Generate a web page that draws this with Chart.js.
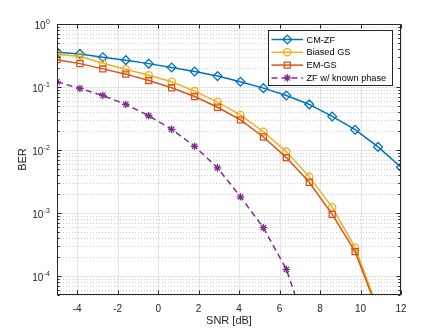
<!DOCTYPE html>
<html>
<head>
<meta charset="utf-8">
<script src="https://cdn.jsdelivr.net/npm/chart.js@4/dist/chart.umd.min.js"></script>
<style>
  html, body { margin: 0; padding: 0; background: #ffffff; }
  #wrap { width: 443px; height: 332px; }
</style>
</head>
<body>
<div id="wrap"><canvas id="c" width="443" height="332"></canvas></div>
<script>
// ---- data ----
const snrDb = [-5, -3.867, -2.733, -1.6, -0.467, 0.667, 1.8, 2.933, 4.067, 5.2, 6.333, 7.467, 8.6, 9.733, 10.867, 12];
const berCmZf = [0.357, 0.335, 0.297, 0.267, 0.235, 0.204, 0.176, 0.149, 0.121, 0.096, 0.0734, 0.0529, 0.0341, 0.0210, 0.0112, 0.00532];
const berBiasedGs = [0.332, 0.304, 0.239, 0.192, 0.154, 0.121, 0.0861, 0.0577, 0.0360, 0.0195, 0.00944, 0.00375, 0.00124, 2.82e-4, 3.0e-5, null];
const berEmGs = [0.272, 0.235, 0.194, 0.160, 0.127, 0.0971, 0.0707, 0.0477, 0.0301, 0.0161, 0.00758, 0.00308, 9.5e-4, 2.44e-4, 2.7e-5, null];
const berZfKnown = [0.121, 0.0947, 0.0734, 0.0529, 0.0350, 0.0213, 0.01145, 0.00521, 0.00181, 5.85e-4, 1.28e-4, 1.1e-5, null, null, null, null];
const seriesNames = ['CM-ZF', 'Biased GS', 'EM-GS', 'ZF w/ known phase'];
const xTickValues = [-4, -2, 0, 2, 4, 6, 8, 10, 12];
const yDecadeExponents = [-4, -3, -2, -1, 0];
const xLabel = 'SNR [dB]';
const yLabel = 'BER';

const FONT = '"Liberation Sans", Arial, Helvetica, sans-serif';
const AXIS_COLOR = '#262626';

function toPoints(vals) { return snrDb.map((x, i) => ({ x: x, y: vals[i] })); }

const datasets = [
  { label: seriesNames[0], data: toPoints(berCmZf), borderColor: '#0072BD', pointStyle: 'rectRot', pointRadius: 4.4, borderDash: [], order: 4 },
  { label: seriesNames[1], data: toPoints(berBiasedGs), borderColor: '#EDB120', pointStyle: 'circle', pointRadius: 3.6, borderDash: [], order: 3 },
  { label: seriesNames[2], data: toPoints(berEmGs), borderColor: '#D95319', pointStyle: 'rect', pointRadius: 4.3, borderDash: [], order: 2 },
  { label: seriesNames[3], data: toPoints(berZfKnown), borderColor: '#7E2F8E', pointStyle: 'star', pointRadius: 3.8, borderDash: [6, 4], order: 1 }
].map(d => Object.assign({
  borderWidth: 1.5,
  pointBorderColor: d.borderColor,
  pointBackgroundColor: 'rgba(0,0,0,0)',
  pointBorderWidth: 1.3,
  pointHoverRadius: d.pointRadius,
  tension: 0,
  fill: false,
  spanGaps: false
}, d));

function drawMarker(ctx, style, r, cx, cy, color) {
  ctx.save();
  ctx.strokeStyle = color;
  ctx.fillStyle = 'rgba(0,0,0,0)';
  ctx.lineWidth = 1.3;
  ctx.setLineDash([]);
  if (Chart.helpers && Chart.helpers.drawPoint) {
    Chart.helpers.drawPoint(ctx, { pointStyle: style, radius: r, borderWidth: 1.3, rotation: 0 }, cx, cy);
  }
  ctx.restore();
}

const matlabAxes = {
  id: 'matlabAxes',
  beforeDatasetsDraw(chart) {
    const { ctx, chartArea: a, scales: { x, y } } = chart;
    ctx.save();
    ctx.strokeStyle = '#cdcdcd';
    ctx.lineWidth = 1;
    ctx.setLineDash([1, 2]);
    for (let d = -5; d <= 0; d++) {
      for (let m = 2; m <= 9; m++) {
        const v = m * Math.pow(10, d);
        if (v < y.min || v > y.max) continue;
        const py = Math.round(y.getPixelForValue(v)) + 0.5;
        ctx.beginPath(); ctx.moveTo(a.left, py); ctx.lineTo(a.right, py); ctx.stroke();
      }
    }
    ctx.setLineDash([]);
    ctx.strokeStyle = '#e4e4e4';
    xTickValues.forEach(v => {
      const px = Math.round(x.getPixelForValue(v)) + 0.5;
      ctx.beginPath(); ctx.moveTo(px, a.top); ctx.lineTo(px, a.bottom); ctx.stroke();
    });
    yDecadeExponents.forEach(e => {
      const py = Math.round(y.getPixelForValue(Math.pow(10, e))) + 0.5;
      ctx.beginPath(); ctx.moveTo(a.left, py); ctx.lineTo(a.right, py); ctx.stroke();
    });
    ctx.restore();
  },
  afterDatasetsDraw(chart) {
    const { ctx, chartArea: a, scales: { x, y } } = chart;
    ctx.save();
    ctx.setLineDash([]);
    ctx.strokeStyle = AXIS_COLOR;
    ctx.lineWidth = 1;
    const L = Math.round(a.left) + 0.5, R = Math.round(a.right) - 0.5;
    const T = Math.round(a.top) + 0.5, B = Math.round(a.bottom) - 0.5;
    ctx.strokeRect(L, T, R - L, B - T);
    xTickValues.forEach(v => {
      const px = Math.round(x.getPixelForValue(v)) + 0.5;
      ctx.beginPath();
      ctx.moveTo(px, B); ctx.lineTo(px, B - 4);
      ctx.moveTo(px, T); ctx.lineTo(px, T + 4);
      ctx.stroke();
    });
    for (let d = -5; d <= 0; d++) {
      for (let m = 1; m <= 9; m++) {
        const v = m * Math.pow(10, d);
        if (v < y.min || v > y.max) continue;
        const len = m === 1 ? 4 : 2.2;
        const py = Math.round(y.getPixelForValue(v)) + 0.5;
        ctx.beginPath();
        ctx.moveTo(L, py); ctx.lineTo(L + len, py);
        ctx.moveTo(R, py); ctx.lineTo(R - len, py);
        ctx.stroke();
      }
    }
    ctx.fillStyle = AXIS_COLOR;
    ctx.textBaseline = 'alphabetic';
    ctx.textAlign = 'left';
    const rightEdge = 50;
    yDecadeExponents.forEach(e => {
      const py = y.getPixelForValue(Math.pow(10, e));
      const exp = String(e);
      ctx.font = '7px ' + FONT;
      const supW = ctx.measureText(exp).width;
      ctx.font = '10px ' + FONT;
      const baseW = ctx.measureText('10').width;
      const x0 = rightEdge - supW - baseW - 0.5;
      ctx.fillText('10', x0, py + 5);
      ctx.font = '7px ' + FONT;
      ctx.fillText(exp, x0 + baseW + 0.5, py - 0.5);
    });

    const bx = 268.5, by = 30.5, bw = 124, bh = 55;
    ctx.fillStyle = '#ffffff';
    ctx.fillRect(bx, by, bw, bh);
    ctx.strokeStyle = AXIS_COLOR;
    ctx.lineWidth = 1;
    ctx.strokeRect(bx, by, bw, bh);
    chart.data.datasets.forEach((ds, i) => {
      const cy = 39.5 + i * 12.8;
      ctx.save();
      ctx.strokeStyle = ds.borderColor;
      ctx.lineWidth = ds.borderWidth;
      ctx.setLineDash(ds.borderDash || []);
      ctx.beginPath(); ctx.moveTo(271.5, cy); ctx.lineTo(303, cy); ctx.stroke();
      ctx.restore();
      drawMarker(ctx, ds.pointStyle, ds.pointRadius, 287.3, cy, ds.borderColor);
      ctx.fillStyle = '#000000';
      ctx.font = '9.2px ' + FONT;
      ctx.textAlign = 'left';
      ctx.textBaseline = 'middle';
      ctx.fillText(ds.label, 306.5, cy + 0.5);
    });
    ctx.restore();
  }
};

new Chart(document.getElementById('c'), {
  type: 'line',
  data: { datasets: datasets },
  plugins: [matlabAxes],
  options: {
    responsive: false,
    animation: false,
    devicePixelRatio: 1,
    layout: { padding: { left: 0, top: 24, right: 42, bottom: 0 } },
    plugins: { legend: { display: false }, tooltip: { enabled: false } },
    scales: {
      x: {
        type: 'linear', min: -5, max: 12,
        afterBuildTicks: s => { s.ticks = xTickValues.map(v => ({ value: v })); },
        afterFit: s => { s.height = 37; },
        grid: { display: false, drawTicks: false },
        border: { display: false },
        ticks: { font: { family: FONT, size: 10 }, color: AXIS_COLOR, padding: 8, maxRotation: 0, autoSkip: false },
        title: { display: true, text: xLabel, font: { family: FONT, size: 11 }, color: AXIS_COLOR, padding: { top: 0, bottom: 4 } }
      },
      y: {
        type: 'logarithmic', min: 5e-5, max: 1,
        afterBuildTicks: s => { s.ticks = yDecadeExponents.map(e => ({ value: Math.pow(10, e) })); },
        afterFit: s => { s.width = 57; },
        grid: { display: false, drawTicks: false },
        border: { display: false },
        ticks: { display: false },
        title: { display: true, text: yLabel, font: { family: FONT, size: 11 }, color: AXIS_COLOR, padding: { top: 16, bottom: 0 } }
      }
    }
  }
});
</script>
</body>
</html>
